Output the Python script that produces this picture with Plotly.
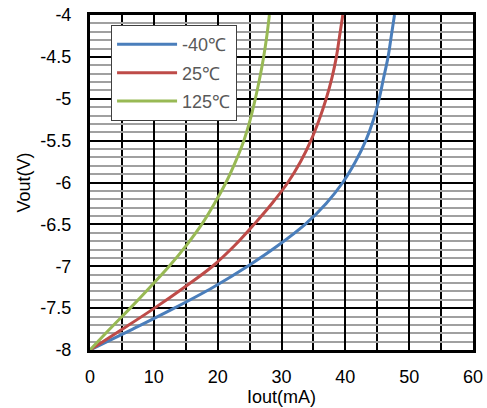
import plotly.graph_objects as go

vout = [-8, -7.75, -7.5, -7.25, -7, -6.75, -6.5, -6.25, -6, -5.75, -5.5, -5.25, -5, -4.75, -4.5, -4.25, -4]
iout_m40 = [0, 6.7, 13.2, 19.3, 24.7, 29.5, 33.7, 37.0, 39.6, 41.6, 43.2, 44.4, 45.3, 46.0, 46.7, 47.2, 47.7]
iout_25 = [0, 5.1, 10.1, 14.8, 19.2, 22.7, 25.7, 28.5, 31.0, 33.0, 34.6, 35.9, 37.0, 37.9, 38.6, 39.1, 39.6]
iout_125 = [0, 3.1, 6.3, 9.4, 12.4, 15.1, 17.5, 19.5, 21.3, 22.8, 24.1, 25.1, 25.9, 26.6, 27.2, 27.7, 28.1]

y_tickvals = [-8, -7.5, -7, -6.5, -6, -5.5, -5, -4.5, -4]
y_ticktext = ["-8", "-7.5", "-7", "-6.5", "-6", "-5.5", "-5", "-4.5", "-4"]

names = ["-40℃", "25℃", "125℃"]
colors = ["#4a7ebb", "#be4b48", "#98b954"]
series = [iout_m40, iout_25, iout_125]

fig = go.Figure()
for i, (nm, c, s) in enumerate(zip(names, colors, series)):
    fig.add_trace(go.Scatter(x=s, y=vout, mode="lines", name=nm, legendgroup=str(i),
                             line=dict(color=c, width=3, shape="spline", smoothing=1)))

fig.update_layout(
    width=487, height=408,
    margin=dict(l=90, r=14, t=15, b=58),
    paper_bgcolor="white", plot_bgcolor="white",
    font=dict(family="Liberation Sans, Arial, sans-serif", size=18, color="black"),
    showlegend=True,
    legend=dict(x=0.055, y=0.97, xanchor="left", yanchor="top",
                bgcolor="white", bordercolor="#404040", borderwidth=1,
                font=dict(size=18, color="#595959"), tracegroupgap=2,
                itemwidth=60),
)
fig.update_xaxes(range=[0, 60], dtick=10, tick0=0, automargin=False,
                 showline=True, mirror=True, linecolor="black", linewidth=3,
                 showgrid=True, gridcolor="black", gridwidth=1.5,
                 minor=dict(dtick=5, showgrid=True, gridcolor="black", gridwidth=1.5),
                 ticks="", zeroline=False, ticklabelstandoff=8, ticklabeloverflow="allow",
                 title=dict(text="Iout(mA)", standoff=2, font=dict(size=18)))
fig.update_yaxes(range=[-8, -4], tickvals=y_tickvals, ticktext=y_ticktext, automargin=False,
                 showline=True, mirror=True, linecolor="black", linewidth=3,
                 showgrid=True, gridcolor="black", gridwidth=1.5,
                 minor=dict(dtick=0.1, tick0=-8, showgrid=True, gridcolor="#a0a0a0", gridwidth=2),
                 ticks="", zeroline=False, ticklabelstandoff=12, ticklabeloverflow="allow",
                 title=dict(text="Vout(V)", standoff=6, font=dict(size=18)))

fig.write_html("out.html", config={"displayModeBar": False},
               post_script="document.body.style.margin='0';document.body.style.overflow='hidden';")
